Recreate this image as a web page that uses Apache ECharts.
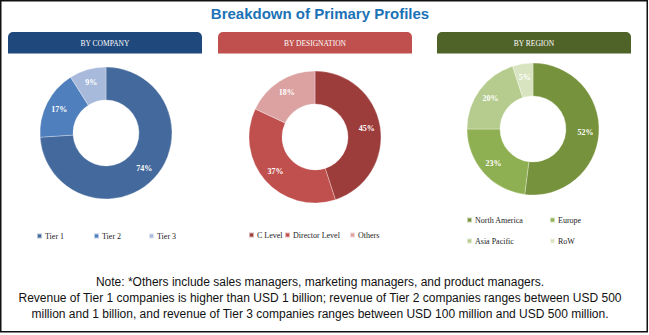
<!DOCTYPE html>
<html>
<head>
<meta charset="utf-8">
<script src="https://cdn.jsdelivr.net/npm/echarts@6/dist/echarts.min.js"></script>
<style>
  html, body { margin: 0; padding: 0; background: #fff; }
  #chart { width: 649px; height: 335px; }
</style>
</head>
<body>
<div id="chart"></div>
<script>
// Share of primary interviews, split three ways (percent)
const companyNames = ['Tier 1', 'Tier 2', 'Tier 3'];
const companyShares = [74, 17, 9];
const companyColors = ['#44699d', '#4f7fbd', '#a8badb'];

const designationNames = ['C Level', 'Director Level', 'Others'];
const designationShares = [45, 37, 18];
const designationColors = ['#9c3d3b', '#c0504d', '#dba2a1'];

const regionNames = ['North America', 'Europe', 'Asia Pacific', 'RoW'];
const regionShares = [52, 23, 20, 5];
const regionColors = ['#76923c', '#8fb052', '#b5cc8e', '#d8e4bf'];

const panelTitles = ['BY COMPANY', 'BY DESIGNATION', 'BY REGION'];
const panelHeaderColors = ['#1f497d', '#c0504d', '#4f6228'];

const noteLines = [
  'Note: *Others include sales managers, marketing managers, and product managers.',
  'Revenue of Tier 1 companies is higher than USD 1 billion; revenue of Tier 2 companies ranges between USD 500',
  'million and 1 billion, and revenue of Tier 3 companies ranges between USD 100 million and USD 500 million.'
];

const chart = echarts.init(document.getElementById('chart'), null, { renderer: 'svg' });

// Panel layout: header boxes, donut centres, legend slots
const headerBoxes = [
  { x: 8, w: 194 },
  { x: 218, w: 194 },
  { x: 437, w: 194 }
];
const donutCenters = [[106, 133], [315, 137], [533, 129]];
const legendSlots = [
  [[36, 232], [93, 232], [148, 232]],
  [[248, 231], [284, 231], [349, 231]],
  [[466, 216], [549, 216], [466, 237], [549, 237]]
];

const groups = [
  { names: companyNames, values: companyShares, colors: companyColors },
  { names: designationNames, values: designationShares, colors: designationColors },
  { names: regionNames, values: regionShares, colors: regionColors }
];

const series = groups.map((g, i) => ({
  type: 'pie',
  center: donutCenters[i],
  radius: [33, 66],
  startAngle: 90,
  clockwise: true,
  avoidLabelOverlap: false,
  silent: true,
  itemStyle: { borderColor: 'rgba(255,255,255,0.6)', borderWidth: 0.5 },
  label: {
    show: true,
    position: 'inside',
    formatter: '{c}%',
    color: '#fff',
    fontSize: 8,
    fontFamily: 'Liberation Serif',
    fontWeight: 'bold'
  },
  labelLine: { show: false },
  emphasis: { disabled: true },
  data: g.names.map((n, k) => ({ name: n, value: g.values[k], itemStyle: { color: g.colors[k] } }))
}));

// One legend entry per slot so each item sits in its own place
const legends = [];
groups.forEach((g, i) => {
  g.names.forEach((n, k) => {
    legends.push({
      data: [n],
      left: legendSlots[i][k][0],
      top: legendSlots[i][k][1],
      padding: 0,
      icon: 'rect',
      itemWidth: 5,
      itemHeight: 5,
      itemGap: 0,
      selectedMode: false,
      textStyle: { fontSize: 8, fontFamily: 'Liberation Serif', color: '#222', padding: [0, 0, 0, -2] }
    });
  });
});

const graphics = [
  {
    type: 'rect',
    shape: { x: 0.75, y: 0.75, width: 646.5, height: 331 },
    style: { fill: 'none', stroke: '#111', lineWidth: 1.5 },
    silent: true
  },
  {
    type: 'text',
    style: {
      text: 'Breakdown of Primary Profiles',
      x: 320, y: 13,
      textAlign: 'center', textVerticalAlign: 'middle',
      font: 'bold 15px "Liberation Sans", Arial, sans-serif',
      fill: '#1c72b6'
    },
    silent: true
  }
];

headerBoxes.forEach((b, i) => {
  graphics.push({
    type: 'rect',
    shape: { x: b.x, y: 32, width: b.w, height: 21.5, r: [5, 5, 0, 0] },
    style: { fill: panelHeaderColors[i] },
    silent: true
  });
  graphics.push({
    type: 'text',
    style: {
      text: panelTitles[i],
      x: b.x + b.w / 2, y: 43,
      textAlign: 'center', textVerticalAlign: 'middle',
      font: '7.5px "Liberation Serif", serif',
      fill: '#fff'
    },
    silent: true
  });
});

noteLines.forEach((line, i) => {
  graphics.push({
    type: 'text',
    style: {
      text: line,
      x: 320, y: 282 + i * 16,
      textAlign: 'center', textVerticalAlign: 'middle',
      font: '12px "Liberation Sans", Arial, sans-serif',
      fill: '#111'
    },
    silent: true
  });
});

chart.setOption({
  animation: false,
  legend: legends,
  series: series,
  graphic: graphics
});
</script>
</body>
</html>
